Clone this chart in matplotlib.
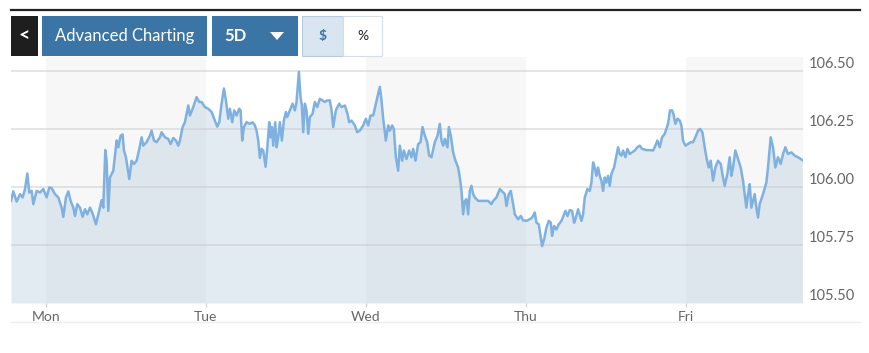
import matplotlib
matplotlib.use("Agg")
import matplotlib.pyplot as plt
from matplotlib.patches import Rectangle, Polygon

plt.rcParams["font.family"] = ["Lato", "DejaVu Sans"]

# ── Data: hours since Monday 00:00, index level ─────────────────────────
hours = [
    -5.25, -4.9, -4.4, -3.9, -3.5, -3.15, -2.8, -2.5, -2.15, -1.9,
    -1.4, -0.9, -0.4, 0.1, 0.5, 0.85, 1.35, 1.85, 2.35, 2.6,
    3.0, 3.35, 3.7, 4.1, 4.35, 4.7, 5.1, 5.5, 5.85, 6.2,
    6.6, 7.0, 7.5, 7.85, 8.1, 8.35, 8.6, 8.9, 9.1, 9.35,
    9.6, 10.1, 10.6, 10.85, 11.2, 11.5, 11.7, 12.0, 12.5, 12.85,
    13.2, 13.6, 14.0, 14.35, 14.6, 15.1, 15.6, 15.85, 16.2, 16.6,
    17.1, 17.35, 17.85, 18.35, 18.7, 19.1, 19.5, 19.85, 20.1, 20.5,
    20.85, 21.1, 21.35, 21.6, 22.1, 22.6, 23.0, 23.35, 23.85, 24.35,
    24.85, 25.35, 25.7, 26.0, 26.35, 26.7, 27.0, 27.35, 27.6, 27.95,
    28.25, 28.6, 29.0, 29.2, 29.45, 29.7, 30.1, 30.6, 31.0, 31.35,
    31.6, 31.85, 32.1, 32.35, 32.6, 32.95, 33.2, 33.5, 33.7, 33.9,
    34.1, 34.4, 34.6, 34.85, 35.1, 35.4, 35.7, 36.0, 36.2, 36.6,
    37.0, 37.35, 37.6, 37.95, 38.2, 38.4, 38.6, 38.85, 39.1, 39.35,
    39.6, 40.0, 40.35, 40.7, 41.1, 41.5, 41.85, 42.2, 42.6, 42.85,
    43.1, 43.5, 44.0, 44.35, 44.85, 45.25, 45.5, 45.85, 46.35, 46.7,
    47.1, 47.6, 48.0, 48.35, 48.7, 49.1, 49.5, 49.85, 50.1, 50.35,
    50.6, 51.0, 51.35, 51.6, 51.95, 52.2, 52.5, 52.85, 53.1, 53.45,
    53.7, 54.1, 54.5, 54.85, 55.1, 55.45, 55.85, 56.2, 56.5, 56.85,
    57.2, 57.5, 57.85, 58.35, 58.75, 59.1, 59.35, 59.6, 59.85, 60.25,
    60.45, 60.75, 61.1, 61.45, 61.85, 62.1, 62.35, 62.6, 62.85, 63.1,
    63.35, 63.6, 63.85, 64.1, 64.35, 64.85, 65.6, 66.35, 66.85, 67.1,
    67.6, 68.1, 68.6, 68.85, 69.1, 69.45, 69.75, 70.1, 70.35, 70.85,
    71.25, 71.6, 72.1, 72.6, 72.95, 73.35, 73.6, 73.95, 74.25, 74.45,
    74.75, 75.1, 75.45, 75.75, 75.95, 76.25, 76.6, 76.95, 77.35, 77.75,
    77.95, 78.25, 78.6, 78.95, 79.25, 79.45, 79.85, 80.35, 80.6, 80.85,
    81.25, 81.6, 81.85, 82.1, 82.35, 82.6, 82.85, 83.1, 83.35, 83.6,
    83.85, 84.1, 84.35, 84.6, 84.85, 85.25, 85.6, 85.85, 86.1, 86.35,
    86.6, 86.95, 87.25, 87.6, 87.95, 88.35, 88.75, 89.1, 89.45, 90.1,
    90.6, 91.1, 91.45, 91.75, 92.1, 92.45, 92.85, 93.1, 93.35, 93.65,
    93.95, 94.15, 94.45, 94.75, 95.1, 95.35, 95.6, 95.95, 96.35, 96.75,
    97.1, 97.45, 97.85, 98.15, 98.5, 98.85, 99.1, 99.45, 99.75, 100.1,
    100.45, 100.85, 101.25, 101.6, 101.85, 102.25, 102.6, 102.85, 103.1, 103.45,
    103.85, 104.25, 104.6, 104.85, 105.1, 105.35, 105.6, 105.85, 106.1, 106.35,
    106.6, 106.85, 107.1, 107.6, 108.1, 108.35, 108.75, 109.1, 109.45, 109.85,
    110.25, 110.6, 110.95, 111.35, 111.85, 112.35, 112.85, 113.5,
]

prices = [
    105.940, 105.981, 105.937, 105.969, 105.955, 105.991, 106.058, 105.976, 105.983, 105.926,
    105.983, 105.976, 105.991, 105.955, 105.998, 105.995, 105.969, 105.955, 105.911, 105.871,
    105.955, 105.981, 105.940, 105.911, 105.875, 105.926, 105.911, 105.871, 105.904, 105.882,
    105.911, 105.885, 105.839, 105.882, 105.911, 105.943, 105.911, 106.159, 106.113, 105.897,
    106.041, 106.070, 106.200, 106.171, 106.221, 106.226, 106.157, 106.128, 106.034, 106.113,
    106.099, 106.113, 106.164, 106.214, 106.178, 106.193, 106.221, 106.243, 106.200, 106.193,
    106.214, 106.236, 106.214, 106.207, 106.185, 106.211, 106.200, 106.178, 106.200, 106.258,
    106.279, 106.315, 106.351, 106.308, 106.344, 106.387, 106.366, 106.366, 106.344, 106.337,
    106.323, 106.286, 106.260, 106.279, 106.359, 106.424, 106.373, 106.294, 106.337, 106.279,
    106.330, 106.308, 106.337, 106.330, 106.200, 106.258, 106.279, 106.272, 106.279, 106.265,
    106.243, 106.200, 106.125, 106.164, 106.157, 106.087, 106.164, 106.279, 106.214, 106.258,
    106.178, 106.279, 106.171, 106.214, 106.279, 106.200, 106.286, 106.323, 106.301, 106.330,
    106.359, 106.330, 106.366, 106.496, 106.387, 106.351, 106.236, 106.359, 106.330, 106.229,
    106.301, 106.315, 106.366, 106.344, 106.380, 106.373, 106.366, 106.373, 106.373, 106.330,
    106.258, 106.330, 106.359, 106.344, 106.351, 106.315, 106.279, 106.286, 106.265, 106.236,
    106.243, 106.265, 106.294, 106.265, 106.308, 106.308, 106.359, 106.402, 106.431, 106.373,
    106.294, 106.200, 106.265, 106.243, 106.265, 106.250, 106.128, 106.070, 106.178, 106.113,
    106.157, 106.120, 106.157, 106.128, 106.164, 106.113, 106.185, 106.193, 106.258, 106.221,
    106.193, 106.135, 106.128, 106.193, 106.221, 106.272, 106.200, 106.178, 106.207, 106.171,
    106.258, 106.221, 106.149, 106.113, 106.084, 106.041, 105.983, 105.882, 105.940, 105.947,
    105.882, 105.983, 106.005, 105.969, 105.955, 105.940, 105.940, 105.940, 105.926, 105.940,
    105.955, 105.991, 105.976, 105.969, 105.918, 105.969, 105.983, 105.926, 105.882, 105.861,
    105.875, 105.856, 105.854, 105.861, 105.868, 105.890, 105.846, 105.839, 105.781, 105.745,
    105.774, 105.825, 105.854, 105.846, 105.789, 105.832, 105.817, 105.839, 105.854, 105.882,
    105.897, 105.875, 105.900, 105.897, 105.846, 105.861, 105.904, 105.854, 105.882, 105.955,
    105.991, 105.983, 106.019, 106.106, 106.084, 106.048, 106.084, 106.048, 106.027, 105.983,
    106.041, 106.019, 106.048, 106.005, 106.056, 106.084, 106.135, 106.171, 106.142, 106.135,
    106.157, 106.128, 106.164, 106.142, 106.149, 106.157, 106.171, 106.178, 106.164, 106.159,
    106.159, 106.157, 106.178, 106.200, 106.171, 106.214, 106.229, 106.250, 106.272, 106.330,
    106.330, 106.315, 106.272, 106.294, 106.286, 106.265, 106.200, 106.178, 106.185, 106.193,
    106.193, 106.214, 106.243, 106.250, 106.236, 106.171, 106.128, 106.084, 106.113, 106.027,
    106.084, 106.113, 106.099, 106.041, 106.005, 106.056, 106.128, 106.048, 106.084, 106.157,
    106.120, 106.084, 106.027, 105.969, 105.911, 105.969, 106.012, 105.911, 105.940, 105.969,
    105.911, 105.868, 105.926, 105.969, 106.019, 106.084, 106.214, 106.171, 106.084, 106.128,
    106.099, 106.142, 106.171, 106.142, 106.149, 106.135, 106.128, 106.116,
]

day_ticks = [0, 24, 48, 72, 96]
day_labels = ["Mon", "Tue", "Wed", "Thu", "Fri"]
price_ticks = [105.50, 105.75, 106.00, 106.25, 106.50]
shaded_days = [(0, 24), (48, 72), (96, 120)]

# ── Layout (pixels of an 870 x 353 canvas) ──────────────────────────────
W, H = 870, 353
LINE_COLOR = "#7fb1e0"
BUTTON_BLUE = "#3a75a6"
LABEL_GREY = "#666666"


def fig_box(x0, y0, x1, y1):
    """Pixel box (top-left origin) -> figure fraction rect."""
    return [x0 / W, 1 - y1 / H, (x1 - x0) / W, (y1 - y0) / H]


fig = plt.figure(figsize=(W / 100, H / 100), dpi=100)
fig.patch.set_facecolor("white")

ax = fig.add_axes(fig_box(11, 57, 803, 303))
ax.set_xlim(-5.25, 113.6)
ax.set_ylim(105.50, 106.56)

for start, end in shaded_days:
    ax.axvspan(start, end, color="#f7f7f7", lw=0, zorder=0)

ax.fill_between(hours, prices, 105.50, color="#b0c8dc", alpha=0.35, lw=0, zorder=1)
for p in price_ticks[1:]:
    ax.axhline(p, color="#c8c8c8", lw=1.2, alpha=0.55, zorder=2)
ax.plot(hours, prices, color=LINE_COLOR, lw=1.8, zorder=3, solid_joinstyle="round")

for side in ["top", "right", "left", "bottom"]:
    ax.spines[side].set_visible(False)

ax.set_xticks(day_ticks)
ax.set_xticklabels(day_labels)
ax.tick_params(axis="x", length=3, color="#cccccc", labelsize=10,
               labelcolor=LABEL_GREY, pad=3)

ax.yaxis.tick_right()
ax.set_yticks(price_ticks)
ax.set_yticklabels([f"{p:.2f}" for p in price_ticks])
ax.tick_params(axis="y", length=0, labelsize=10.5, labelcolor=LABEL_GREY, pad=4)
plt.setp(ax.get_yticklabels(), va="bottom")

# ── Header rule, buttons and footer rule ────────────────────────────────
fig.add_artist(plt.Line2D([11 / W, 860 / W], [1 - 10 / H, 1 - 10 / H],
                          color="#222222", lw=1.6, transform=fig.transFigure))
fig.add_artist(plt.Line2D([11 / W, 860 / W], [1 - 322 / H, 1 - 322 / H],
                          color="#eeeeee", lw=1.0, transform=fig.transFigure))


def button(x0, x1, face, edge=None, lw=0):
    x, y, w, h = fig_box(x0, 16, x1, 56)
    fig.add_artist(Rectangle((x, y), w, h, transform=fig.transFigure,
                             facecolor=face, edgecolor=edge or face, lw=lw))
    return x + w / 2, y + h / 2


cx, cy = button(11, 38, "#1e1e1e")
fig.text(cx, cy, "<", color="white", fontsize=14, fontweight="bold",
         ha="center", va="center")

cx, cy = button(42, 207, BUTTON_BLUE)
fig.text(cx, cy, "Advanced Charting", color="white", fontsize=12,
         ha="center", va="center")

button(212, 298, BUTTON_BLUE)
fig.text(224 / W, 1 - 36 / H, "5D", color="white", fontsize=12,
         fontweight="bold", ha="left", va="center")
tri = [(270 / W, 1 - 32 / H), (284 / W, 1 - 32 / H), (277 / W, 1 - 40 / H)]
fig.add_artist(Polygon(tri, closed=True, transform=fig.transFigure,
                       facecolor="white", edgecolor="none"))

cx, cy = button(302, 343, "#d9e6f1", "#b8cbdc", 0.8)
fig.text(cx, cy, "$", color=BUTTON_BLUE, fontsize=10, fontweight="bold",
         ha="center", va="center")
cx, cy = button(343, 382, "white", "#d6dde4", 0.8)
fig.text(cx, cy, "%", color="#222222", fontsize=10, ha="center", va="center")

fig.savefig("out.png", dpi=100)
